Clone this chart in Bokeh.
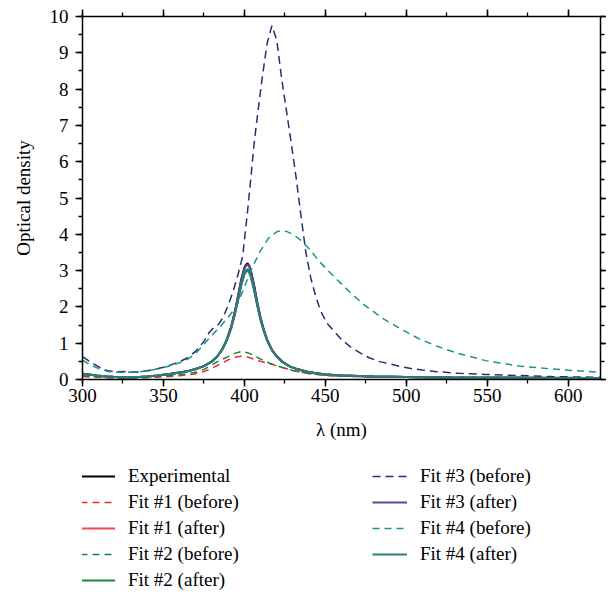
from bokeh.plotting import figure
from bokeh.layouts import column
from bokeh.models import (Range1d, LinearAxis, SingleIntervalTicker, Legend, LegendItem,
                          CustomJSTickFormatter)
from bokeh.embed import file_html
from bokeh.resources import INLINE

# ---- data ----
LAM_S = [300, 305, 310, 315, 320, 325, 330, 335, 340, 345, 350, 355, 360, 365, 370, 375,
         380, 383, 386, 389, 392, 394, 396, 398, 400, 401, 402, 403, 404, 406, 408, 410,
         412, 414, 417, 420, 424, 428, 433, 440, 450, 460, 480, 500, 530, 560, 590, 620]
EXPERIMENTAL = [0.16, 0.13, 0.10, 0.08, 0.07, 0.06, 0.06, 0.07, 0.08, 0.10, 0.13, 0.16, 0.19, 0.23, 0.29, 0.37,
                0.50, 0.62, 0.81, 1.08, 1.48, 1.85, 2.28, 2.74, 3.08, 3.16, 3.20, 3.14, 3.00, 2.60, 2.12, 1.70,
                1.37, 1.10, 0.82, 0.64, 0.47, 0.36, 0.28, 0.20, 0.14, 0.11, 0.08, 0.07, 0.05, 0.05, 0.04, 0.04]
FIT1_AFTER = [0.16, 0.13, 0.10, 0.08, 0.07, 0.06, 0.06, 0.07, 0.08, 0.10, 0.13, 0.16, 0.19, 0.23, 0.29, 0.37,
              0.50, 0.62, 0.80, 1.06, 1.43, 1.78, 2.17, 2.58, 2.90, 2.97, 3.00, 2.95, 2.83, 2.47, 2.03, 1.64,
              1.34, 1.08, 0.81, 0.63, 0.47, 0.36, 0.28, 0.20, 0.14, 0.11, 0.08, 0.07, 0.05, 0.05, 0.04, 0.04]
FIT2_AFTER = [0.16, 0.13, 0.10, 0.08, 0.07, 0.06, 0.06, 0.07, 0.08, 0.10, 0.13, 0.16, 0.19, 0.23, 0.29, 0.37,
              0.50, 0.62, 0.80, 1.06, 1.43, 1.78, 2.17, 2.58, 2.90, 2.97, 3.00, 2.95, 2.83, 2.47, 2.03, 1.64,
              1.34, 1.08, 0.81, 0.63, 0.47, 0.36, 0.28, 0.20, 0.14, 0.11, 0.08, 0.07, 0.05, 0.05, 0.04, 0.04]
FIT3_AFTER = [0.16, 0.13, 0.10, 0.08, 0.07, 0.06, 0.06, 0.07, 0.08, 0.10, 0.13, 0.16, 0.19, 0.23, 0.29, 0.37,
              0.50, 0.62, 0.81, 1.08, 1.47, 1.84, 2.27, 2.72, 3.05, 3.13, 3.17, 3.11, 2.98, 2.58, 2.11, 1.69,
              1.36, 1.10, 0.82, 0.64, 0.47, 0.36, 0.28, 0.20, 0.14, 0.11, 0.08, 0.07, 0.05, 0.05, 0.04, 0.04]
FIT4_AFTER = [0.16, 0.13, 0.10, 0.08, 0.07, 0.06, 0.06, 0.07, 0.08, 0.10, 0.13, 0.16, 0.19, 0.23, 0.29, 0.37,
              0.50, 0.62, 0.80, 1.06, 1.44, 1.79, 2.19, 2.61, 2.94, 3.01, 3.04, 2.99, 2.86, 2.49, 2.05, 1.65,
              1.34, 1.08, 0.81, 0.63, 0.47, 0.36, 0.28, 0.20, 0.14, 0.11, 0.08, 0.07, 0.05, 0.05, 0.04, 0.04]

LAM_12 = [300, 310, 320, 330, 340, 350, 360, 370, 375, 380, 383, 386, 390, 394, 398, 402, 406, 410,
          415, 420, 425, 430, 435, 440, 450, 460, 480, 500, 550, 620]
FIT1_BEFORE = [0.08, 0.06, 0.04, 0.04, 0.05, 0.07, 0.10, 0.16, 0.22, 0.31, 0.38, 0.45, 0.54, 0.61, 0.64, 0.62, 0.56, 0.50,
               0.44, 0.38, 0.31, 0.25, 0.20, 0.16, 0.11, 0.09, 0.07, 0.06, 0.05, 0.04]
FIT2_BEFORE = [0.10, 0.07, 0.05, 0.05, 0.06, 0.09, 0.13, 0.20, 0.28, 0.40, 0.48, 0.55, 0.63, 0.72, 0.77, 0.74, 0.66, 0.56,
               0.46, 0.38, 0.31, 0.25, 0.20, 0.17, 0.12, 0.10, 0.08, 0.07, 0.06, 0.05]

LAM_3 = [300, 305, 310, 315, 320, 325, 330, 335, 340, 345, 350, 355, 360, 365, 370, 375,
         378, 381, 384, 387, 390, 393, 396, 399,
         402, 404, 406, 409, 411, 414, 417, 420, 423, 426, 429, 432, 435, 438, 441, 444, 447,
         451, 455, 460, 466, 472, 477, 483, 489, 496, 503, 510, 518, 532, 549, 570, 590, 620]
FIT3_BEFORE = [0.63, 0.48, 0.35, 0.25, 0.21, 0.22, 0.21, 0.21, 0.24, 0.28, 0.34, 0.41, 0.49, 0.60, 0.78, 1.05,
               1.28, 1.43, 1.52, 1.72, 2.05, 2.42, 2.88, 3.40,
               4.66, 5.55, 6.50, 7.60, 8.30, 9.25, 9.75, 9.35, 8.30, 7.40, 6.50, 5.55, 4.50, 3.50, 2.80, 2.30, 1.90,
               1.55, 1.35, 1.10, 0.88, 0.72, 0.60, 0.50, 0.44, 0.36, 0.30, 0.26, 0.22, 0.17, 0.14, 0.11, 0.08, 0.06]

LAM_4 = [300, 305, 310, 315, 320, 325, 330, 335, 340, 345, 350, 355, 360, 365, 370, 375,
         380, 385, 390, 395, 400, 405, 410, 415, 420, 423, 426, 430, 435, 440, 447, 455,
         466, 475, 486, 497, 508, 520, 532, 549, 570, 590, 605, 620]
FIT4_BEFORE = [0.53, 0.40, 0.30, 0.23, 0.20, 0.20, 0.20, 0.21, 0.24, 0.28, 0.33, 0.39, 0.46, 0.56, 0.72, 0.97,
               1.22, 1.45, 1.72, 2.00, 2.55, 3.10, 3.55, 3.90, 4.07, 4.10, 4.08, 4.00, 3.83, 3.60, 3.22, 2.85,
               2.37, 2.02, 1.67, 1.38, 1.12, 0.90, 0.72, 0.52, 0.37, 0.29, 0.24, 0.20]

FONT = "Liberation Serif"
FS = "19px"
W = 606

p = figure(width=W, height=454,
           x_range=Range1d(300, 620), y_range=Range1d(0, 10),
           output_backend="svg", toolbar_location=None,
           min_border_left=82, min_border_right=6, min_border_top=16, min_border_bottom=75)
p.outline_line_color = None
p.xgrid.visible = False
p.ygrid.visible = False

p.xaxis.ticker = SingleIntervalTicker(interval=50, num_minor_ticks=2)
p.yaxis.ticker = SingleIntervalTicker(interval=1, num_minor_ticks=2)

blank = CustomJSTickFormatter(code="return ''")
top = LinearAxis(ticker=SingleIntervalTicker(interval=50, num_minor_ticks=2), formatter=blank)
right = LinearAxis(ticker=SingleIntervalTicker(interval=1, num_minor_ticks=2), formatter=blank)
p.add_layout(top, "above")
p.add_layout(right, "right")


def style(ax, labels=True):
    ax.axis_line_color = "black"
    ax.axis_line_width = 1.5
    ax.major_tick_line_color = "black"
    ax.major_tick_line_width = 1.5
    ax.minor_tick_line_color = "black"
    ax.minor_tick_line_width = 1.3
    ax.major_tick_in = 0
    ax.major_tick_out = 7
    ax.minor_tick_in = 0
    ax.minor_tick_out = 4
    if labels:
        ax.major_label_text_font = FONT
        ax.major_label_text_font_size = FS
        ax.major_label_text_color = "black"
        ax.axis_label_text_font = FONT
        ax.axis_label_text_font_size = FS
        ax.axis_label_text_font_style = "normal"
        ax.axis_label_text_color = "black"
    else:
        ax.major_label_standoff = 0


style(top, labels=False)
style(right, labels=False)
xa = p.below[0]
ya = p.left[0]
style(xa, True)
style(ya, True)
right.major_tick_out = 6
right.minor_tick_out = 4

xa.axis_label = "λ (nm)"
xa.major_label_standoff = 2
xa.axis_label_standoff = 14
ya.axis_label = "Optical density"
ya.major_label_standoff = 7
ya.axis_label_standoff = 13

DASH = "7 5"
series = [
    ("Experimental", LAM_S, EXPERIMENTAL, "#000000", "solid", 2.0),
    ("Fit #1 (before)", LAM_12, FIT1_BEFORE, "#f0282a", DASH, 1.5),
    ("Fit #1 (after)", LAM_S, FIT1_AFTER, "#f5484a", "solid", 2.0),
    ("Fit #2 (before)", LAM_12, FIT2_BEFORE, "#1b8040", DASH, 1.5),
    ("Fit #2 (after)", LAM_S, FIT2_AFTER, "#198a3c", "solid", 2.0),
    ("Fit #3 (before)", LAM_3, FIT3_BEFORE, "#2a2c72", "8 5", 1.5),
    ("Fit #3 (after)", LAM_S, FIT3_AFTER, "#574c94", "solid", 2.0),
    ("Fit #4 (before)", LAM_4, FIT4_BEFORE, "#1a9490", DASH, 1.5),
    ("Fit #4 (after)", LAM_S, FIT4_AFTER, "#2a7e7c", "solid", 2.0),
]

for name, xs, ys, col, dash, lw in series:
    p.line(xs, ys, line_color=col, line_width=lw, line_dash=dash)

# legend panel: a second figure holding only the key; its lines carry the same
# series but lie outside this panel's view range, so only the key shows.
pl = figure(width=W, height=141, x_range=Range1d(0, 1), y_range=Range1d(0, 1),
            output_backend="svg", toolbar_location=None,
            min_border_left=0, min_border_right=0, min_border_top=0, min_border_bottom=0)
pl.axis.visible = False
pl.xgrid.visible = False
pl.ygrid.visible = False
pl.outline_line_color = None

items = []
for name, xs, ys, col, dash, lw in series:
    r = pl.line(xs, ys, line_color=col, line_width=lw, line_dash=dash)
    items.append(LegendItem(label=name, renderers=[r]))

legend = Legend(items=items, orientation="vertical", nrows=5, location=(-2, 4),
                label_text_font=FONT, label_text_font_size=FS, label_text_color="black",
                glyph_width=35, glyph_height=20, label_standoff=13, spacing=4,
                label_width=240, padding=0, margin=0,
                border_line_color=None, background_fill_alpha=0)
pl.add_layout(legend, "center")

open("out.html", "w").write(file_html(column(p, pl, spacing=0), INLINE))
